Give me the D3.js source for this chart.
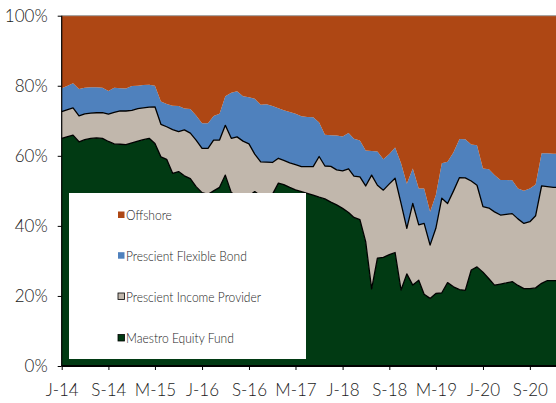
<!DOCTYPE html>
<meta charset="utf-8">
<script src="https://d3js.org/d3.v7.min.js"></script>
<style>
  body { margin: 0; background: #fff; }
  text { font-family: Lato, "Open Sans", sans-serif; font-weight: 300; }
</style>
<svg id="chart" width="556" height="403"></svg>
<script>
// monthly points, Jan 2014 .. Feb 2021
var months = d3.timeMonth.range(new Date(2014, 0, 1), new Date(2021, 2, 1));

// allocation in %
var equity = [65.0,65.5,65.9,64.0,64.6,65.0,65.1,65.0,64.1,63.4,
  63.3,63.2,63.7,64.2,64.6,65.0,63.5,59.7,59.0,55.0,
  55.5,54.3,53.5,51.2,49.5,49.0,50.0,51.0,54.5,49.5,
  48.5,48.5,48.5,49.8,48.5,47.5,49.0,52.2,51.8,51.0,
  50.3,49.8,49.3,48.8,48.2,47.7,46.8,46.0,45.0,43.8,
  42.4,41.8,35.5,22.0,30.8,31.0,31.8,32.4,21.7,26.3,
  23.1,24.5,20.5,19.3,20.7,20.9,23.8,22.6,21.8,21.6,
  27.4,28.3,26.8,24.9,23.1,23.4,23.7,24.1,23.0,22.1,
  22.1,22.3,23.6,24.4,24.4,24.4];
var income = [7.6,7.7,7.8,7.4,7.4,7.2,7.2,7.3,7.8,9.0,
  9.5,9.6,9.3,9.3,9.1,8.9,10.5,9.3,9.3,12.5,
  11.4,13.1,13.0,13.3,12.6,13.1,14.5,13.5,14.2,15.5,
  16.9,15.7,14.9,10.7,9.8,10.7,9.1,7.1,6.9,7.0,
  7.2,7.1,7.6,8.1,11.6,9.4,10.2,10.0,10.7,12.5,
  11.8,12.2,15.9,32.5,20.8,19.2,20.2,21.2,24.7,13.0,
  23.3,15.8,20.2,15.2,18.6,27.0,22.6,27.4,32.0,32.1,
  25.4,23.3,18.7,20.2,20.9,19.7,19.6,19.4,19.0,18.6,
  19.1,20.6,27.8,26.8,26.6,26.6];
var flexBond = [6.7,6.8,7.0,7.7,7.4,7.4,7.3,7.1,6.6,7.0,
  6.5,6.4,6.9,6.5,6.5,6.4,6.0,6.5,6.5,6.8,
  7.3,6.1,6.9,7.0,7.2,7.2,6.9,7.5,8.3,13.0,
  13.0,12.8,13.3,15.8,16.3,16.5,16.1,14.3,14.3,14.5,
  14.5,14.4,14.2,14.1,9.7,8.9,8.9,9.8,9.8,10.2,
  10.7,10.4,10.1,6.9,9.6,8.8,8.5,8.8,11.5,12.7,
  10.0,10.4,10.0,9.5,9.5,10.0,11.9,11.0,11.0,11.0,
  10.4,11.4,10.9,11.1,10.5,10.0,9.8,9.5,8.7,9.3,
  9.5,8.9,9.3,9.5,9.6,9.6];
var offshore = [20.7,20.0,19.3,20.9,20.6,20.4,20.4,20.6,21.5,20.6,
  20.7,20.8,20.1,20.0,19.8,19.7,20.0,24.5,25.2,25.7,
  25.8,26.5,26.6,28.5,30.7,30.7,28.6,28.0,23.0,22.0,
  21.6,23.0,23.3,23.7,25.4,25.3,25.8,26.4,27.0,27.5,
  28.0,28.7,28.9,29.0,30.5,34.0,34.1,34.2,34.5,33.5,
  35.1,35.6,38.5,38.6,38.8,41.0,39.5,37.6,42.1,48.0,
  43.6,49.3,49.3,56.0,51.2,42.1,41.7,39.0,35.2,35.3,
  36.8,37.0,43.6,43.8,45.5,46.9,46.9,47.0,49.3,50.0,
  49.3,48.2,39.3,39.3,39.4,39.4];

var seriesNames = ["Maestro Equity Fund", "Prescient Income Provider", "Prescient Flexible Bond", "Offshore"];
var seriesColors = ["#013a13", "#c1b7ac", "#4f81bd", "#ae4714"];
var xTickLabels = ["J-14","S-14","M-15","J-16","S-16","M-17","J-18","S-18","M-19","J-20","S-20"];

var svg = d3.select("#chart");
var plotLeft = 61.7, plotTop = 15.7, plotBottom = 366;

var rows = months.map(function(m, i) {
  return { date: m, k0: equity[i], k1: income[i], k2: flexBond[i], k3: offshore[i] };
});
var keys = ["k0", "k1", "k2", "k3"];
var stacked = d3.stack().keys(keys).offset(d3.stackOffsetExpand)(rows);

var x = d3.scaleTime()
  .domain([months[0], months[months.length - 1]])
  .range([plotLeft, plotLeft + 85 * 5.854]);
var y = d3.scaleLinear().domain([0, 1]).range([plotBottom, plotTop]);

var area = d3.area()
  .x(function(d) { return x(d.data.date); })
  .y0(function(d) { return y(d[0]); })
  .y1(function(d) { return y(d[1]); });

svg.append("g").selectAll("path")
  .data(stacked)
  .enter().append("path")
  .attr("d", area)
  .attr("fill", function(d, i) { return seriesColors[i]; });

// outlines on the two bottom series
var topLine = d3.line()
  .x(function(d) { return x(d.data.date); })
  .y(function(d) { return y(d[1]); });
[0, 1].forEach(function(i) {
  svg.append("path")
    .attr("d", topLine(stacked[i]))
    .attr("fill", "none")
    .attr("stroke", "#000")
    .attr("stroke-width", 1.3)
    .attr("stroke-linejoin", "round");
});

// frame
svg.append("line").attr("x1", plotLeft).attr("x2", 556).attr("y1", plotTop).attr("y2", plotTop)
  .attr("stroke", "#999").attr("stroke-width", 1);
svg.append("line").attr("x1", plotLeft).attr("x2", plotLeft).attr("y1", plotTop).attr("y2", plotBottom)
  .attr("stroke", "#000").attr("stroke-width", 1.2);

// axes
var yAxis = svg.append("g")
  .attr("transform", "translate(" + plotLeft + ",0)")
  .call(d3.axisLeft(y).tickValues([0, 0.2, 0.4, 0.6, 0.8, 1])
    .tickFormat(d3.format(".0%")).tickSize(4).tickPadding(10));
var xTicks = xTickLabels.map(function(d, i) { return months[i * 8]; });
var xAxis = svg.append("g")
  .attr("transform", "translate(0," + plotBottom + ")")
  .call(d3.axisBottom(x).tickValues(xTicks)
    .tickFormat(function(d, i) { return xTickLabels[i]; })
    .tickSize(4).tickPadding(14));
[yAxis, xAxis].forEach(function(g) {
  g.select(".domain").remove();
  g.selectAll("text").attr("font-size", 17).attr("fill", "#1a1a1a")
    .style("font-family", "Lato, 'Open Sans', sans-serif").style("font-weight", 300);
  g.selectAll(".tick line").attr("stroke", "#000");
});
svg.append("line").attr("x1", plotLeft).attr("x2", 556).attr("y1", plotBottom).attr("y2", plotBottom)
  .attr("stroke", "#000").attr("stroke-width", 2);

// legend
var legend = svg.append("g");
legend.append("rect").attr("x", 69).attr("y", 193).attr("width", 237).attr("height", 166)
  .attr("fill", "#fff");
var legendOrder = [3, 2, 1, 0];
var legendY = [220, 260.7, 301.5, 343];
legendOrder.forEach(function(s, j) {
  legend.append("rect")
    .attr("x", 118).attr("y", legendY[j] - 8.5)
    .attr("width", 6.5).attr("height", 6.5)
    .attr("fill", seriesColors[s])
    .attr("stroke", s < 2 ? "#000" : "none").attr("stroke-width", 0.8);
  legend.append("text")
    .attr("transform", "translate(126," + legendY[j] + ") scale(0.86,1)")
    .attr("font-size", 14).attr("fill", "#1a1a1a")
    .text(seriesNames[s]);
});
</script>
